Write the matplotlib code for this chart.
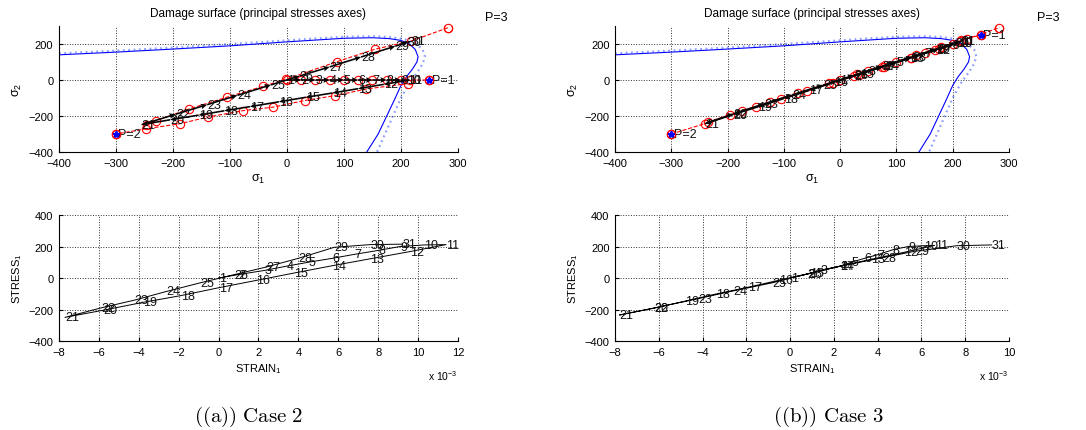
import matplotlib
matplotlib.use('Agg')
import matplotlib.pyplot as plt
import numpy as np

plt.rcParams['font.family'] = ['Liberation Sans', 'DejaVu Sans']
plt.rcParams['mathtext.default'] = 'regular'

# damage surface in principal stress space (solid + dotted offset)
surf_s1 = [-400, -300, -200, -100, 0, 50, 100, 150, 180, 200, 215, 225, 230, 228, 220, 210, 200, 190, 175, 160, 140]
surf_s2 = [140, 155, 172, 190, 212, 222, 232, 235, 230, 220, 200, 170, 130, 100, 60, 20, -30, -100, -200, -300, -400]
dot_s1 = [-400, -300, -200, -100, 0, 50, 100, 150, 180, 205, 225, 238, 242, 238, 228, 214, 200, 186, 172, 158]
dot_s2 = [148, 163, 180, 200, 220, 231, 240, 243, 239, 228, 205, 170, 130, 90, 40, -20, -100, -200, -300, -400]

# load points P=1, P=2 for each case
p_s1_c2 = [250, -300]
p_s2_c2 = [0, -300]
p_s1_c3 = [250, -300]
p_s2_c3 = [250, -300]

# case 2: stress path (steps 1..31)
sig1_c2 = [0, 25, 50, 75, 100, 125, 150, 175, 200, 210, 215,
           170, 125, 80, 33, -14, -65, -110, -155, -205, -255,
           -195, -140, -87, -28, 22, 75, 130, 190, 212, 218]
sig2_c2 = [0, 0, 0, 0, 0, 0, 0, 0, 0, 0, 0,
           -24, -48, -72, -96, -121, -148, -171, -195, -221, -248,
           -190, -137, -85, -27, 22, 73, 128, 188, 210, 216]
# case 2: trial points (red)
red_s1_c2 = [0, 25, 50, 75, 100, 125, 150, 175, 200, 215, 250, np.nan,
             212, 139, 84, 31, -25, -77, -139, -188, -247, -300, np.nan,
             -245, -229, -171, -106, -42, -1, 87, 154, 218, 283]
red_s2_c2 = [0, 0, 0, 0, 0, 0, 0, 0, 0, 0, 0, np.nan,
             -20, -50, -87, -114, -151, -170, -206, -243, -271, -300, np.nan,
             -250, -225, -160, -96, -35, 5, 101, 171, 217, 291]

# case 3: stress path (steps 1..31)
sig1_c3 = [0, 25, 50, 75, 100, 125, 150, 175, 200, 210, 215,
           170, 125, 80, 35, -10, -55, -100, -145, -190, -240,
           -190, -135, -85, -30, 25, 75, 128, 170, 205, 215]
sig2_c3 = [0, 25, 48, 72, 98, 122, 148, 172, 195, 208, 215,
           168, 122, 78, 32, -12, -58, -103, -148, -192, -243,
           -188, -132, -82, -28, 27, 78, 130, 172, 207, 216]
red_s1_c3 = [0, 25, 50, 75, 100, 125, 150, 175, 200, 215, 250, np.nan,
             215, 168, 125, 78, 33, -12, -58, -105, -150, -195, -240, -300, np.nan,
             -235, -175, -125, -75, -20, 30, 80, 135, 180, 225, 283]
red_s2_c3 = [0, 25, 50, 75, 100, 125, 150, 175, 200, 220, 250, np.nan,
             215, 165, 122, 75, 30, -15, -60, -105, -152, -195, -242, -300, np.nan,
             -233, -172, -122, -72, -18, 33, 83, 137, 182, 228, 291]

# stress-strain (strain in 1e-3)
strain_c2 = [0.0, 1.0, 2.3, 3.4, 4.5, 5.7, 6.8, 8.0, 9.1, 10.3, 11.4,
             9.6, 7.6, 5.7, 3.8, 1.9, 0.0, -1.9, -3.8, -5.8, -7.7,
             -5.9, -4.2, -2.6, -0.9, 0.8, 2.4, 4.0, 5.8, 7.6, 9.2]
stress_c2 = [0, 22, 48, 75, 100, 125, 150, 175, 200, 210, 212,
             168, 122, 78, 32, -15, -62, -112, -155, -205, -250,
             -190, -140, -85, -30, 22, 70, 125, 195, 212, 215]
strain_c3 = [0.05, 0.8, 1.4, 2.3, 2.8, 3.4, 4.0, 4.7, 5.4, 6.1, 6.6,
             5.2, 3.7, 2.3, 0.9, -0.5, -1.9, -3.4, -4.8, -6.2, -7.8,
             -6.2, -4.2, -2.6, -0.8, 0.85, 2.3, 4.2, 5.7, 7.6, 9.2]
stress_c3 = [2, 25, 50, 76, 100, 125, 148, 180, 200, 205, 207,
             163, 119, 75, 30, -14, -58, -102, -147, -191, -235,
             -190, -131, -82, -30, 28, 76, 128, 170, 205, 210]


def style(ax):
    ax.spines['top'].set_visible(False)
    ax.spines['right'].set_visible(False)
    ax.tick_params(direction='in', length=3, labelsize=8, pad=4)
    ax.grid(True, linestyle=':', color='0.2', linewidth=0.7)


def stress_plot(ax, s1, s2, rs1, rs2, ps1, ps2):
    ax.plot(surf_s1, surf_s2, '-', color='blue', lw=0.8)
    ax.plot(dot_s1, dot_s2, linestyle=(0, (0.8, 1.6)), color='#3050ff', lw=1.6, alpha=0.55)
    ax.plot(rs1, rs2, '--', color='red', lw=0.8, marker='o', ms=6, mfc='none', mew=0.8)
    ax.plot([283], [291], 'o', color='red', ms=6, mfc='none', mew=0.8, clip_on=False)
    x = np.array(s1, float)
    y = np.array(s2, float)
    ax.quiver(x[:-1], y[:-1], np.diff(x), np.diff(y), angles='xy', scale_units='xy', scale=1,
              color='k', width=0.004, headwidth=3.5, headlength=4, headaxislength=3.5, zorder=4)
    for i in range(len(x)):
        ax.text(x[i], y[i], str(i + 1), fontsize=9, va='center', ha='left', color='#111', zorder=5)
    ax.plot(ps1, ps2, '*', color='blue', ms=6, zorder=6)
    ax.plot(ps1, ps2, 'o', color='red', ms=6, mfc='none', mew=0.8, zorder=6)
    ax.text(ps1[0] + 4, ps2[0], 'P=1', fontsize=9, va='center', color='#111')
    ax.text(ps1[1] + 4, ps2[1], 'P=2', fontsize=9, va='center', color='#111')
    ax.set_xlim(-400, 300)
    ax.set_ylim(-400, 300)
    ax.set_xticks(range(-400, 301, 100))
    ax.set_yticks([-400, -200, 0, 200])
    style(ax)
    ax.set_title('Damage surface (principal stresses axes)', fontsize=8.5, pad=7)
    ax.set_xlabel('σ$_1$', fontsize=9, labelpad=3)
    ax.set_ylabel('σ$_2$', fontsize=9, labelpad=3)


def strain_plot(ax, e, s, xmax):
    ax.plot(e, s, '-', color='k', lw=0.7)
    for i in range(len(e)):
        ax.text(e[i], s[i], str(i + 1), fontsize=9, va='center', ha='left', color='#111')
    ax.set_xlim(-8, xmax)
    ax.set_ylim(-400, 400)
    ax.set_xticks(range(-8, xmax + 1, 2))
    ax.set_yticks(range(-400, 401, 200))
    style(ax)
    ax.set_xlabel('STRAIN$_1$', fontsize=8, labelpad=3)
    ax.set_ylabel('STRESS$_1$', fontsize=8, labelpad=3)
    ax.text(1.0, -0.27, 'x 10$^{-3}$', transform=ax.transAxes, fontsize=7.5, ha='right', va='center')


fig = plt.figure(figsize=(10.86, 4.31), dpi=100)

ax1 = fig.add_axes([0.0543, 0.645, 0.3674, 0.2923])
stress_plot(ax1, sig1_c2, sig2_c2, red_s1_c2, red_s2_c2, p_s1_c2, p_s2_c2)
ax2 = fig.add_axes([0.5663, 0.645, 0.3628, 0.2923])
stress_plot(ax2, sig1_c3, sig2_c3, red_s1_c3, red_s2_c3, p_s1_c3, p_s2_c3)

ax3 = fig.add_axes([0.0543, 0.2065, 0.3674, 0.2923])
strain_plot(ax3, strain_c2, stress_c2, 12)
ax4 = fig.add_axes([0.5663, 0.2065, 0.3628, 0.2923])
strain_plot(ax4, strain_c3, stress_c3, 10)

fig.text(485 / 1086, 1 - 18 / 431, 'P=3', fontsize=9, va='center')
fig.text(1037 / 1086, 1 - 18 / 431, 'P=3', fontsize=9, va='center')

fig.text(249 / 1086, 1 - 417 / 431, r'$\mathrm{((a))\ Case\ 2}$', fontsize=15,
         math_fontfamily='cm', ha='center', va='center')
fig.text(828 / 1086, 1 - 417 / 431, r'$\mathrm{((b))\ Case\ 3}$', fontsize=15,
         math_fontfamily='cm', ha='center', va='center')

fig.savefig('out.png', dpi=100)
